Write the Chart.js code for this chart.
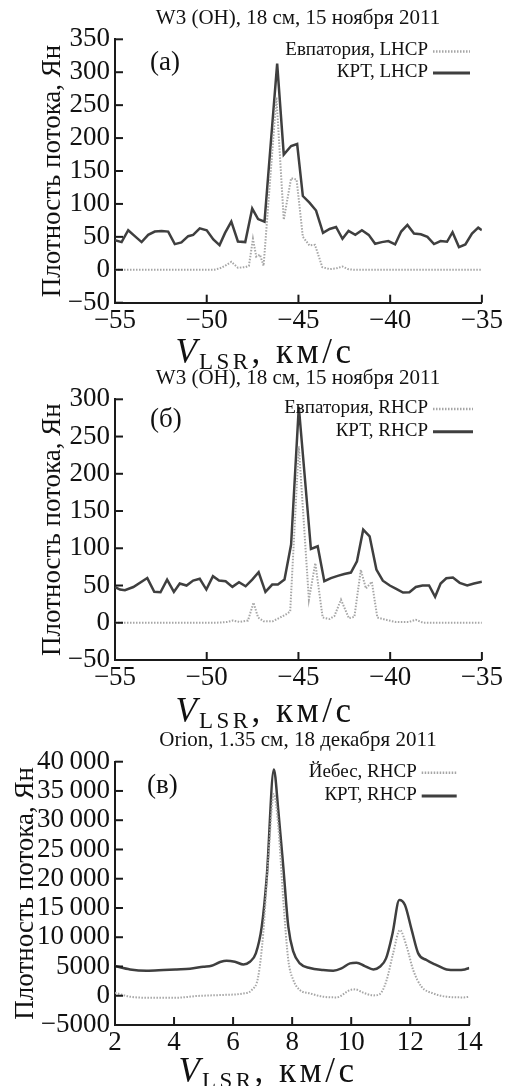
<!DOCTYPE html>
<html><head><meta charset="utf-8">
<script src="https://cdn.jsdelivr.net/npm/chart.js@4.4.1/dist/chart.umd.min.js"></script>
<style>
html,body{margin:0;padding:0;background:#fff;}
#wrap{position:relative;width:505px;height:1086px;overflow:hidden;}
canvas{position:absolute;left:0;}
</style></head><body>
<div id="wrap">
<canvas id="cA" width="505" height="372" style="top:0px"></canvas>
<canvas id="cB" width="505" height="372" style="top:362px"></canvas>
<canvas id="cC" width="505" height="362" style="top:724px"></canvas>
</div>
<script>
// ---------- Panel (а): W3(OH) LHCP ----------
const velA_krt = [-55,-54.64,-54.28,-53.92,-53.55,-53.19,-52.83,-52.46,-52.1,-51.74,-51.38,-51.01,-50.74,-50.38,-50.0,-49.64,-49.3,-49.0,-48.66,-48.3,-47.9,-47.52,-47.2,-46.85,-46.16,-45.8,-45.4,-45.07,-44.76,-44.4,-44.04,-43.66,-43.3,-42.95,-42.6,-42.27,-41.9,-41.54,-41.17,-40.82,-40.46,-40.1,-39.73,-39.4,-39.06,-38.7,-38.33,-37.97,-37.61,-37.25,-36.9,-36.6,-36.25,-35.9,-35.54,-35.2,-35.0];
const fluxA_krt = [45,42,60,51,42,53,58,59,58,39,41.5,51,53,63,60,46,37.5,56,73,43,42,93,77,73,313,175,188,191,112,102,90,56,62,65,47,59,53,60,53,39.5,42,43.5,38.5,58,68,55,54,50,39,43.5,42.5,57,34.5,38.5,55,64,60];
const velA_eup = [-55,-49.6,-49.3,-49.0,-48.66,-48.3,-47.9,-47.7,-47.48,-47.3,-47.1,-46.9,-46.2,-45.8,-45.4,-45.1,-44.76,-44.4,-44.1,-43.7,-43.3,-42.95,-42.6,-42.3,-42.0,-35];
const fluxA_eup = [0,0,2,6,12,3,4,6,47,20,23,6,262,76,139,137,50,37,38,4,1,2,5,1,0,0];
const xTicksA = [-55,-50,-45,-40,-35];
const yTicksA = [-50,0,50,100,150,200,250,300,350];

// ---------- Panel (б): W3(OH) RHCP ----------
const velB_krt = [-55,-54.73,-54.46,-54.0,-53.24,-52.86,-52.52,-52.16,-51.79,-51.47,-51.1,-50.74,-50.38,-50.02,-49.66,-49.33,-48.97,-48.6,-48.24,-47.88,-47.52,-47.17,-46.8,-46.43,-46.12,-45.76,-45.4,-44.98,-44.32,-43.95,-43.59,-43.23,-42.86,-42.5,-42.14,-41.81,-41.47,-41.12,-40.75,-40.4,-40.02,-39.67,-39.3,-38.95,-38.6,-38.24,-37.88,-37.55,-37.25,-36.94,-36.58,-36.21,-35.8,-35.43,-35.0];
const fluxB_krt = [48,44.5,43.7,48,60,41.5,41,58,41.5,52.7,50,56.7,59,44.6,62.5,56.7,55.8,48.2,54.5,49,58,67.8,41.5,51.3,51.3,58,105,290,99,102.7,55.8,60,63,65.5,67.4,82.6,125,116,71.5,56.5,50,45.5,40.5,41,48,50,50,34.8,52.7,59.8,60.7,53.6,50,52.7,55];
const velB_eup = [-55,-49.5,-48.9,-48.57,-48.2,-47.75,-47.45,-47.2,-46.9,-46.4,-46.0,-45.7,-45.45,-44.98,-44.43,-44.08,-43.68,-43.3,-43.04,-42.68,-42.25,-41.95,-41.6,-41.32,-41.0,-40.7,-40.24,-39.7,-39.0,-38.6,-38.2,-35];
const fluxB_eup = [0,0,1,3,1,3,27,7,2,2,7,11,15,237,31,80,7,5,9,31,6,8,71,46,55,7,4,1,1,4,0,0];
const xTicksB = [-55,-50,-45,-40,-35];
const yTicksB = [-50,0,50,100,150,200,250,300];

// ---------- Panel (в): Orion H2O ----------
const velC_krt = [2,2.51,3.07,3.64,4.09,4.54,4.99,5.27,5.56,5.78,6.06,6.35,6.57,6.77,6.97,7.14,7.38,7.53,7.7,7.87,8.04,8.26,8.6,9.05,9.39,9.67,9.96,10.18,10.46,10.75,10.97,11.18,11.4,11.63,11.82,12.05,12.27,12.55,12.89,13.23,13.57,13.85,14.0];
const fluxC_krt = [5075,4500,4280,4390,4500,4620,4960,5130,5760,5990,5810,5360,5810,7240,11800,20330,38680,31730,22040,11800,7530,5530,4730,4390,4280,4670,5530,5645,5075,4500,4960,6380,10650,16350,15500,11220,7240,6100,5240,4500,4390,4500,4730];
const velC_yeb = [2,2.51,3.07,4.09,4.76,5.56,6.35,6.63,6.85,7.02,7.19,7.38,7.53,7.7,7.87,8.04,8.26,8.6,9.05,9.5,9.96,10.13,10.41,10.75,10.97,11.2,11.42,11.65,11.88,12.1,12.38,12.78,13.23,13.8,14.0];
const fluxC_yeb = [520,-165,-336,-336,-50,120,400,970,3250,10650,23190,34500,29000,16350,6100,2680,970,400,-165,-280,970,1090,520,60,290,2680,7240,11220,8380,4390,1550,400,-165,-280,-170];
const xTicksC = [2,4,6,8,10,12,14];
const yTicksC = [-5000,0,5000,10000,15000,20000,25000,30000,35000,40000];

const SERIF = '"Liberation Serif", "Times New Roman", serif';
const SOLID = '#3f3f3f', DOT = '#a6a6a6';

function pts(xs, ys){ return xs.map((x,i)=>({x:x, y:ys[i]})); }
function fmt(v){
  const neg = v < 0; let s = String(Math.abs(v));
  if (Math.abs(v) >= 10000) s = s.slice(0, s.length-3) + '\u2009' + s.slice(-3);
  return (neg ? '\u2212' : '') + s;
}

const overlay = {
  id:'overlay',
  afterDraw(chart){
    const o = chart.options.plugins.overlay; if(!o) return;
    const ctx = chart.ctx, ca = chart.chartArea;
    const xs = chart.scales.x, ys = chart.scales.y;
    ctx.save();
    ctx.strokeStyle = '#1a1a1a'; ctx.lineWidth = 2;
    xs.ticks.forEach(t=>{ const p = xs.getPixelForValue(t.value);
      ctx.beginPath(); ctx.moveTo(p, ca.bottom); ctx.lineTo(p, ca.bottom-8); ctx.stroke(); });
    ys.ticks.forEach(t=>{ const p = ys.getPixelForValue(t.value);
      ctx.beginPath(); ctx.moveTo(ca.left, p); ctx.lineTo(ca.left+8, p); ctx.stroke(); });
    ctx.fillStyle = '#111';
    // title
    ctx.font = '21px ' + SERIF; ctx.textAlign='center'; ctx.textBaseline='middle';
    ctx.fillText(o.title, o.titleX, o.titleY);
    // panel letter
    ctx.font = '27px ' + SERIF; ctx.textAlign='left';
    ctx.fillText(o.letter, o.letterX, o.letterY);
    // legend
    ctx.font = '19px ' + SERIF; ctx.textAlign='right';
    chart.data.datasets.forEach((ds, i)=>{
      const y = o.legendY[i];
      ctx.fillStyle = '#111';
      ctx.fillText(ds.label, o.legendRight, y);
      ctx.save();
      ctx.strokeStyle = ds.borderColor; ctx.lineWidth = ds.borderWidth + 0.5;
      ctx.setLineDash(ds.borderDash || []);
      ctx.beginPath(); ctx.moveTo(o.legendRight+5, y+1); ctx.lineTo(o.legendRight+5+o.sampleLen, y+1); ctx.stroke();
      ctx.restore();
    });
    // x-axis title: V_LSR, км/с
    ctx.fillStyle = '#111'; ctx.textBaseline='alphabetic'; ctx.textAlign='left';
    const fBig = '35px ' + SERIF, fIt = 'italic 35px ' + SERIF, fSub = '23px ' + SERIF;
    const sp = 3.5;
    ctx.font = fIt; const w1 = ctx.measureText('V').width + 2;
    ctx.font = fSub; const w2 = ctx.measureText('LSR').width + 3*sp;
    ctx.font = fBig; const w3 = ctx.measureText(', км/с').width + 6*sp;
    let x0 = o.xTitleCenter - (w1+w2+w3)/2;
    ctx.font = fIt; ctx.fillText('V', x0, o.xTitleBase); x0 += w1;
    if ('letterSpacing' in ctx) ctx.letterSpacing = sp + 'px';
    ctx.font = fSub; ctx.fillText('LSR', x0, o.xTitleBase + 6); x0 += w2;
    ctx.font = fBig; ctx.fillText(', км/с', x0, o.xTitleBase);
    if ('letterSpacing' in ctx) ctx.letterSpacing = '0px';
    ctx.restore();
  }
};

function makeChart(id, cfg){
  new Chart(document.getElementById(id), {
    type:'line',
    data:{ datasets:[
      { label: cfg.labels[0], data: pts(cfg.x1, cfg.y1), borderColor: DOT, borderWidth: 2,
        borderDash:[1.5,1.5], pointRadius:0, fill:false, tension: cfg.tension, cubicInterpolationMode: cfg.cim, order:0 },
      { label: cfg.labels[1], data: pts(cfg.x2, cfg.y2), borderColor: SOLID, borderWidth: 2.5,
        pointRadius:0, fill:false, tension: cfg.tension, cubicInterpolationMode: cfg.cim, order:1 }
    ]},
    options:{
      responsive:false, animation:false, events:[],
      layout:{ padding:{ left:0, right:cfg.padRight, top:cfg.padTop, bottom:0 } },
      plugins:{ legend:{display:false}, tooltip:{enabled:false}, title:{display:false},
        overlay: cfg.overlay },
      scales:{
        x:{ type:'linear', min: cfg.xTicks[0], max: cfg.xTicks[cfg.xTicks.length-1],
          afterBuildTicks: s => { s.ticks = cfg.xTicks.map(v=>({value:v})); },
          afterFit: s => { s.height = cfg.xAxisH; },
          grid:{ display:false, drawTicks:false },
          border:{ display:true, color:'#1a1a1a', width:2 },
          ticks:{ font:{family:SERIF, size:27}, color:'#111', padding:2, maxRotation:0,
            autoSkip:false, callback: v => fmt(v) } },
        y:{ min: cfg.yTicks[0], max: cfg.yTicks[cfg.yTicks.length-1],
          afterBuildTicks: s => { s.ticks = cfg.yTicks.map(v=>({value:v})); },
          afterFit: s => { s.width = 115; },
          grid:{ display:false, drawTicks:false },
          border:{ display:true, color:'#1a1a1a', width:2 },
          ticks:{ font:{family:SERIF, size:27}, color:'#111', padding:5, autoSkip:false,
            callback: v => fmt(v) },
          title:{ display:true, text:'Плотность потока, Ян', color:'#111',
            font:{family:SERIF, size:27}, padding:{top:cfg.yTitlePad, bottom:0} } }
      }
    },
    plugins:[overlay]
  });
}

makeChart('cA', {
  labels:['Евпатория, LHCP','КРТ, LHCP'],
  x1: velA_eup, y1: fluxA_eup, x2: velA_krt, y2: fluxA_krt,
  xTicks: xTicksA, yTicks: yTicksA, tension:0, cim:'default',
  padRight:22, padTop:39.3, xAxisH: 372-302.7, yTitlePad:36.8,
  overlay:{ title:'W3 (OH), 18 см, 15 ноября 2011', titleX:298, titleY:18.5,
    letter:'(а)', letterX:150, letterY:63, legendRight:428, legendY:[50.5,72], sampleLen:37,
    xTitleCenter:265, xTitleBase:363 }
});
makeChart('cB', {
  labels:['Евпатория, RHCP','КРТ, RHCP'],
  x1: velB_eup, y1: fluxB_eup, x2: velB_krt, y2: fluxB_krt,
  xTicks: xTicksB, yTicks: yTicksB, tension:0, cim:'default',
  padRight:22, padTop:37.3, xAxisH: 372-298, yTitlePad:36.8,
  overlay:{ title:'W3 (OH), 18 см, 15 ноября 2011', titleX:298, titleY:16,
    letter:'(б)', letterX:150, letterY:58, legendRight:428, legendY:[46,68.7], sampleLen:40,
    xTitleCenter:265, xTitleBase:360 }
});
makeChart('cC', {
  labels:['Йебес, RHCP','КРТ, RHCP'],
  x1: velC_yeb, y1: fluxC_yeb, x2: velC_krt, y2: fluxC_krt,
  xTicks: xTicksC, yTicks: yTicksC, tension:0.3, cim:'monotone',
  padRight:35.7, padTop:37.7, xAxisH: 362-301, yTitlePad:9.8,
  overlay:{ title:'Orion, 1.35 см, 18 декабря 2011', titleX:298, titleY:16.7,
    letter:'(в)', letterX:147, letterY:62, legendRight:416.7, legendY:[47.7,71], sampleLen:35,
    xTitleCenter:268, xTitleBase:357.7 }
});
</script>
</body></html>
